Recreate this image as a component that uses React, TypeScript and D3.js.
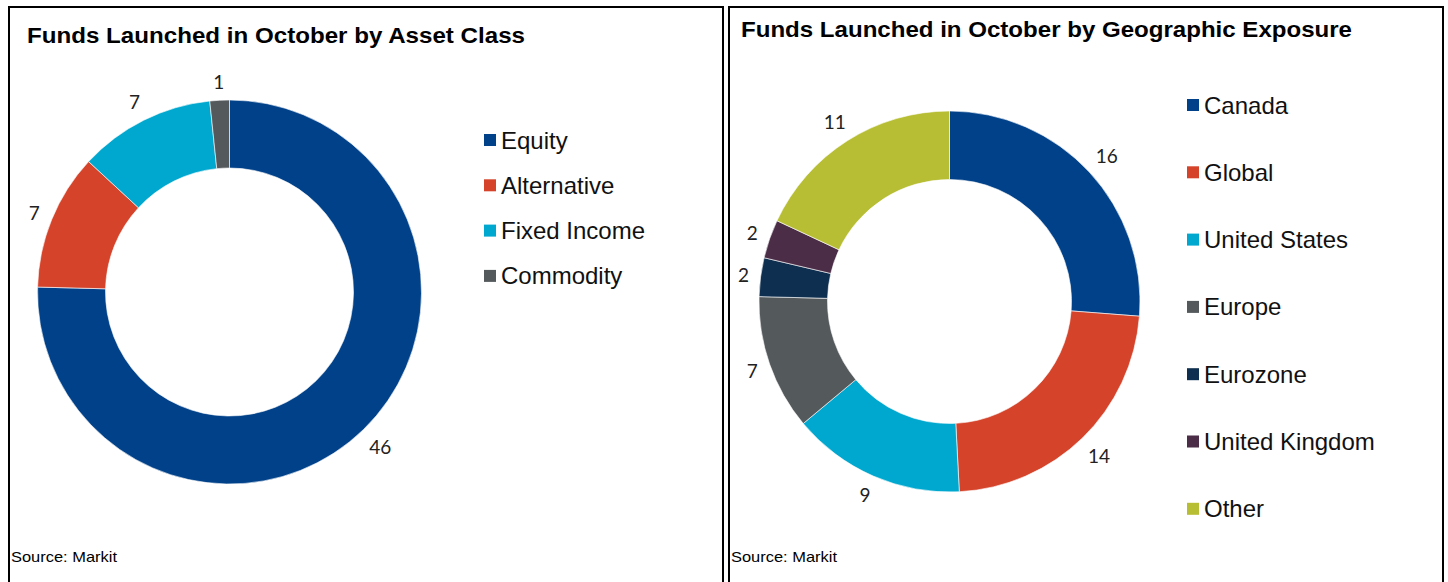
import React from "react";
import * as d3 from "d3";

// asset class panel
const assetClasses = ["Equity", "Alternative", "Fixed Income", "Commodity"];
const assetCounts = [46, 7, 7, 1];
const assetColors = ["#004189", "#D4432A", "#00A8CF", "#54595C"];

// geographic exposure panel
const regions = ["Canada", "Global", "United States", "Europe", "Eurozone", "United Kingdom", "Other"];
const regionCounts = [16, 14, 9, 7, 2, 2, 11];
const regionColors = ["#004189", "#D4432A", "#00A8CF", "#54595C", "#0E2F4F", "#4B2D48", "#B7BE34"];

const source = "Source: Markit";

type DonutProps = {
  cx: number;
  cy: number;
  outer: number;
  inner: number;
  values: number[];
  colors: string[];
};

function Donut({ cx, cy, outer, inner, values, colors }: DonutProps) {
  const pie = d3.pie<number>().sort(null).value((d) => d);
  const arcs = pie(values);
  const arc = d3.arc<d3.PieArcDatum<number>>().innerRadius(inner).outerRadius(outer);
  const fs = 19;

  return (
    <g transform={`translate(${cx},${cy})`}>
      {arcs.map((a, i) => (
        <path key={i} d={arc(a) || ""} fill={colors[i]} stroke="#fff" strokeWidth={0.6} />
      ))}
      {arcs.map((a, i) => {
        // outside-end labels, pushed out by half the text box
        const mid = (a.startAngle + a.endAngle) / 2;
        const s = Math.sin(mid);
        const c = -Math.cos(mid);
        const halfW = String(a.data).length * fs * 0.27;
        const halfH = fs * 0.42;
        const r = outer + 11 + Math.abs(s) * halfW + Math.abs(c) * halfH;
        return (
          <text
            key={"l" + i}
            x={s * r}
            y={c * r}
            textAnchor="middle"
            dominantBaseline="central"
            fontFamily="Lato, 'Open Sans', sans-serif"
            fontSize={fs}
            fill="#222"
          >
            {a.data}
          </text>
        );
      })}
    </g>
  );
}

function Legend({ x, y, step, labels, colors }: { x: number; y: number; step: number; labels: string[]; colors: string[] }) {
  return (
    <g>
      {labels.map((l, i) => (
        <g key={l} transform={`translate(${x},${y + i * step})`}>
          <rect x={0} y={-6} width={12} height={12} fill={colors[i]} />
          <text x={17} y={8.5} fontFamily="'Liberation Sans', Arial, sans-serif" fontSize={24} fill="#111">
            {l}
          </text>
        </g>
      ))}
    </g>
  );
}

export default function App() {
  return (
    <svg
      width={1448}
      height={582}
      style={{ position: "absolute", left: 0, top: 0, background: "#fff" }}
    >
      {/* panel frames, they run off the bottom */}
      <rect x={9} y={7} width={714} height={600} fill="none" stroke="#000" strokeWidth={2} />
      <rect x={729} y={7} width={714} height={600} fill="none" stroke="#000" strokeWidth={2} />

      <text
        x={27}
        y={43}
        fontFamily="'Liberation Sans', Arial, sans-serif"
        fontWeight="bold"
        fontSize={22}
        textLength={498}
        lengthAdjust="spacingAndGlyphs"
      >
        Funds Launched in October by Asset Class
      </text>
      <text
        x={741}
        y={37}
        fontFamily="'Liberation Sans', Arial, sans-serif"
        fontWeight="bold"
        fontSize={22}
        textLength={611}
        lengthAdjust="spacingAndGlyphs"
      >
        Funds Launched in October by Geographic Exposure
      </text>

      <Donut cx={229.5} cy={292} outer={192} inner={124} values={assetCounts} colors={assetColors} />
      <Legend x={484} y={140} step={45.3} labels={assetClasses} colors={assetColors} />

      <Donut cx={949.5} cy={301.5} outer={190.5} inner={122} values={regionCounts} colors={regionColors} />
      <Legend x={1187} y={105} step={67.3} labels={regions} colors={regionColors} />

      <text x={11} y={562} fontFamily="'Liberation Sans', Arial, sans-serif" fontSize={15} textLength={106} lengthAdjust="spacingAndGlyphs">
        {source}
      </text>
      <text x={731} y={562} fontFamily="'Liberation Sans', Arial, sans-serif" fontSize={15} textLength={106} lengthAdjust="spacingAndGlyphs">
        {source}
      </text>
    </svg>
  );
}
